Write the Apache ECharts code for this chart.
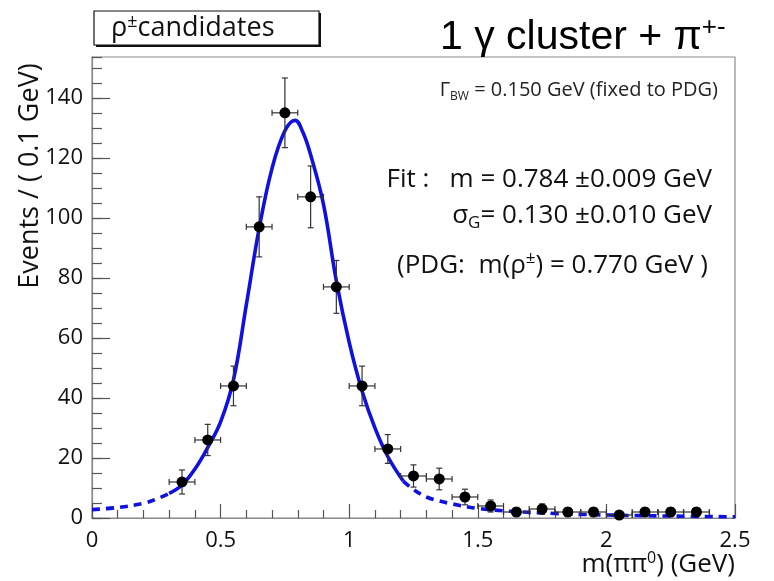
<!DOCTYPE html>
<html><head><meta charset="utf-8">
<script src="https://cdn.jsdelivr.net/npm/echarts@6/dist/echarts.min.js"></script>
<style>html,body{margin:0;padding:0;background:#fff}#c{width:774px;height:581px}</style>
</head><body><div id="c"></div>
<script>
// ---- data ----
const binCenters = [0.35,0.45,0.55,0.65,0.75,0.85,0.95,1.05,1.15,1.25,1.35,1.45,1.55,1.65,1.75,1.85,1.95,2.05,2.15,2.25,2.35];
const counts     = [12,26,44,97,135,107,77,44,23,14,13,7,4,2,3,2,2,1,2,2,2];
const countErrs  = [4,5.2,6.6,10,11.6,10.3,8.8,6.6,4.8,3.7,3.6,2.6,2,1.4,1.7,1.4,1.4,1,1.4,1.4,1.4];
const binHalfWidth = 0.05;
const fitX = [0.00,0.10,0.20,0.25,0.30,0.35,0.40,0.45,0.50,0.55,0.60,0.65,0.70,0.75,0.79,0.82,0.85,0.90,0.95,1.00,1.05,1.10,1.15,1.21,1.25,1.30,1.35,1.40,1.50,1.60,1.70,1.80,1.90,2.00,2.20,2.50];
const fitY = [2.8,3.5,4.9,6.3,8.2,11.0,16.3,23.5,32,46,71,96.5,116.5,129,132.5,128.5,121,104.5,79,58.5,42.3,30,20.5,12.3,9.5,7.0,5.7,4.7,3.2,2.4,1.9,1.5,1.2,1.0,0.7,0.4];
const fitRange = [0.30, 1.21];
const xTickValues = [0, 0.5, 1, 1.5, 2, 2.5];
const yTickValues = [0, 20, 40, 60, 80, 100, 120, 140];

const pts = fitX.map((x,i)=>[x, fitY[i]]);
const solid = pts.filter(p=>p[0]>=fitRange[0] && p[0]<=fitRange[1]);
const dashL = pts.filter(p=>p[0]<=fitRange[0]);
const dashR = pts.filter(p=>p[0]>=fitRange[1]);
const errData = binCenters.map((x,i)=>[x, counts[i], countErrs[i], binHalfWidth]);

const FONT = '"Open Sans", sans-serif';
const chart = echarts.init(document.getElementById('c'), null, {renderer:'canvas'});
const blue = '#1010e0';
const lineCommon = {type:'line', smooth:0.4, showSymbol:false, symbol:'none', z:3, silent:true};

chart.setOption({
  animation:false,
  grid:{left:92, right:39, top:57, bottom:63, show:true, borderColor:'#8a8a8a', borderWidth:1.2, backgroundColor:'transparent'},
  xAxis:[{
    type:'value', min:0, max:2.5, interval:0.5,
    axisLine:{show:true, lineStyle:{color:'#8a8a8a', width:1.2}},
    axisTick:{show:true, inside:true, length:14, lineStyle:{color:'#555', width:1.2}},
    minorTick:{show:true, splitNumber:5, length:8, lineStyle:{color:'#555', width:1.2}},
    axisLabel:{color:'#111', fontSize:22, fontFamily:FONT, margin:12,
      formatter:v=>{const t=xTickValues.find(a=>Math.abs(a-v)<1e-6); return t===undefined?'':String(t);}},
    splitLine:{show:false}
  }],
  yAxis:[{
    type:'value', min:0, max:153.6, interval:20,
    axisLine:{show:true, lineStyle:{color:'#8a8a8a', width:1.2}},
    axisTick:{show:true, inside:true, length:18, lineStyle:{color:'#555', width:1.2}},
    axisLabel:{color:'#111', fontSize:22, fontFamily:FONT, margin:9, showMaxLabel:false,
      formatter:v=>{const t=yTickValues.find(a=>Math.abs(a-v)<1e-6); return t===undefined?'':String(t);}},
    splitLine:{show:false}
  },{
    type:'value', min:0, max:153.6, interval:5, position:'left',
    axisLine:{show:false},
    axisTick:{show:true, inside:true, length:10, lineStyle:{color:'#555', width:1.2}},
    axisLabel:{show:false}, splitLine:{show:false}
  }],
  series:[
    Object.assign({}, lineCommon, {data:solid, lineStyle:{color:blue, width:3.6}}),
    Object.assign({}, lineCommon, {data:dashL, lineStyle:{color:blue, width:3.6, type:[8,6]}}),
    Object.assign({}, lineCommon, {data:dashR, lineStyle:{color:blue, width:3.6, type:[8,6]}}),
    {
      type:'custom', z:4, silent:true, data:errData,
      renderItem:(params, api)=>{
        const x=api.value(0), y=api.value(1), e=api.value(2), hw=api.value(3);
        const l=api.coord([x-hw,y]), r=api.coord([x+hw,y]);
        const t=api.coord([x,y+e]), b=api.coord([x,Math.max(0,y-e)]);
        const st={stroke:'#333', lineWidth:1.2};
        const cap=3;
        const L=(x1,y1,x2,y2)=>({type:'line', shape:{x1,y1,x2,y2}, style:st});
        return {type:'group', children:[
          L(l[0],l[1],r[0],r[1]),
          L(l[0],l[1]-cap,l[0],l[1]+cap),
          L(r[0],r[1]-cap,r[0],r[1]+cap),
          L(t[0],t[1],b[0],b[1]),
          L(t[0]-cap,t[1],t[0]+cap,t[1]),
          L(b[0]-cap,b[1],b[0]+cap,b[1])
        ]};
      }
    },
    {type:'scatter', z:5, silent:true, symbol:'circle', symbolSize:11, itemStyle:{color:'#000', opacity:1},
     data:binCenters.map((x,i)=>[x,counts[i]])}
  ],
  graphic:[
    {type:'rect', shape:{x:96, y:13, width:225, height:34}, style:{fill:'#111'}, z:10},
    {type:'rect', shape:{x:94, y:11, width:225, height:34}, style:{fill:'#fff', stroke:'#111', lineWidth:1.2}, z:11},
    {type:'text', x:111, y:28, z:12, style:{text:'{a|ρ}{s|±}{a|candidates}', fill:'#111', verticalAlign:'middle',
      rich:{a:{fontSize:27, fontFamily:FONT, lineHeight:30}, s:{fontSize:18, fontFamily:FONT, lineHeight:16, verticalAlign:'top'}}}},
    {type:'text', x:440, y:38, z:12, style:{text:'{a|1 γ cluster + π}{s|+-}', fill:'#000', verticalAlign:'middle',
      rich:{a:{fontSize:41, fontFamily:'"Liberation Sans", Arial, sans-serif', lineHeight:46}, s:{fontSize:26, fontFamily:'"Liberation Sans", Arial, sans-serif', lineHeight:24, verticalAlign:'top'}}}},
    {type:'text', x:718, y:90, z:12, style:{text:'{a|Γ}{b|BW}{a| = 0.150 GeV (fixed to PDG)}', fill:'#222', align:'right', verticalAlign:'middle',
      rich:{a:{fontSize:20, fontFamily:FONT, lineHeight:26}, b:{fontSize:12, fontFamily:FONT, lineHeight:12, verticalAlign:'bottom'}}}},
    {type:'text', x:712, y:180, z:12, style:{text:'Fit :   m = 0.784 ±0.009 GeV', fill:'#111', align:'right', verticalAlign:'middle', fontSize:26, fontFamily:FONT}},
    {type:'text', x:712, y:216, z:12, style:{text:'{a|σ}{b|G}{a|= 0.130 ±0.010 GeV}', fill:'#111', align:'right', verticalAlign:'middle',
      rich:{a:{fontSize:26, fontFamily:FONT, lineHeight:32}, b:{fontSize:17, fontFamily:FONT, lineHeight:16, verticalAlign:'bottom'}}}},
    {type:'text', x:708, y:266, z:12, style:{text:'{a|(PDG:  m(ρ}{s|±}{a|) = 0.770 GeV )}', fill:'#111', align:'right', verticalAlign:'middle',
      rich:{a:{fontSize:26, fontFamily:FONT, lineHeight:32}, s:{fontSize:17, fontFamily:FONT, lineHeight:18, verticalAlign:'top'}}}},
    {type:'text', x:30, y:176, rotation:Math.PI/2, z:12, style:{text:'Events / ( 0.1 GeV)', fill:'#111', align:'center', verticalAlign:'middle', fontSize:27, fontFamily:FONT}},
    {type:'text', x:735, y:565, z:12, style:{text:'{a|m(ππ}{s|0}{a|) (GeV)}', fill:'#111', align:'right', verticalAlign:'middle',
      rich:{a:{fontSize:26, fontFamily:FONT, lineHeight:30}, s:{fontSize:16, fontFamily:FONT, lineHeight:16, verticalAlign:'top'}}}}
  ]
});
</script></body></html>
